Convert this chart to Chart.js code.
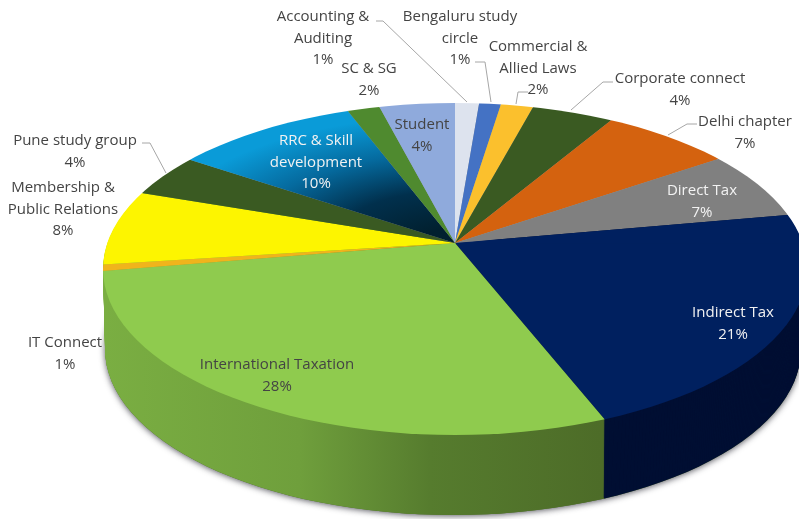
<!DOCTYPE html>
<html><head><meta charset="utf-8">
<style>html,body{margin:0;padding:0;background:#fff}canvas{display:block}</style>
<script src="https://cdn.jsdelivr.net/npm/chart.js@4"></script>
</head><body><canvas id="c" width="799" height="519"></canvas>
<script>
const categories=["Accounting & Auditing","Bengaluru study circle","Commercial & Allied Laws","Corporate connect","Delhi chapter","Direct Tax","Indirect Tax","International Taxation","IT Connect","Membership & Public Relations","Pune study group","RRC & Skill development","SC & SG","Student"];
const shownPercent=[1,1,2,4,7,7,21,28,1,8,4,10,2,4];
const shares=[1.1,1.0,1.5,3.9,6.8,7.4,21.4,28.4,0.8,8.4,4.4,9.6,1.6,3.7];
const faceColors=["#dde3ee","#4472c4","#fbc02d","#3a5a22","#d4620f","#808080","#00205f","#8fcb4e","#f0b41c","#fdf500","#3a5a22","#0a9bd8","#4f8a2f","#8faadc"];
const wallColors=["#999","#999","#999","#999","#999","#999","#000f33","#6f9f3c","#7aae42","#7aae42","#999","#999","#999","#999"];
const labelLines=[["Accounting &","Auditing"],["Bengaluru study","circle"],["Commercial &","Allied Laws"],["Corporate connect"],["Delhi chapter"],["Direct Tax"],["Indirect Tax"],["International Taxation"],["IT Connect"],["Membership &","Public Relations"],["Pune study group"],["RRC & Skill","development"],["SC & SG"],["Student"]];
const labelAnchors=[[323,17],[460,17],[538,47],[680,79],[745,122],[702,191],[733,313],[277,365],[65,343],[63,188],[75,141],[316,141],[369,69],[422,125]];
const labelColors=["#444","#444","#444","#444","#444","#f2f2f2","#f2f2f2","#444","#444","#444","#444","#f2f2f2","#444","#444"];
const leaders=[[[376,21],[383,21],[467,102]],[[475,62],[485,62],[491,102]],[[528,92],[518,92],[516,104]],[[613,82],[603,82],[571,110]],[[697,124],[687,124],[668,135]],[[142,143],[150,143],[166,173]]];
const LINE=21.3, FONT='15px "Open Sans"';
// projection of the flat pie on to the page
const apex={x:455,y:243}, rim={x:455,y:269,a:352,b:166}, sideDepth=80, oversize=2.2;
const reachRightDown=192, reachLeftDown=125, reachRightUp=141, reachLeftUp=150;
const INTL=7, RRC=11;
const greenWallStops=[[105,"#7aae42"],[300,"#6f9f3c"],[430,"#567c2e"],[600,"#4d6c28"]];
const rrcStops=[[0.1,"#01202f"],[0.35,"#01304d"],[0.6,"#056a9e"],[0.85,"#0a9bd8"]];

function arcStyle(fill){return {backgroundColor:fill,borderColor:fill,borderWidth:0,borderAlign:'center',borderJoinStyle:'round',borderRadius:0,spacing:0,offset:0,circular:true,borderDash:[],borderDashOffset:0};}
function paintArc(ctx,arc,fill){const keep=arc.options;arc.options=arcStyle(fill);arc.draw(ctx);arc.options=keep;}
function project(ctx,arc,reachY,dy){
  const R=arc.outerRadius, sx=oversize*rim.a/R, sy=oversize*reachY/R;
  ctx.translate(apex.x,apex.y+dy);ctx.scale(sx,sy);ctx.translate(-arc.x,-arc.y);
}
function clipEllipse(ctx,cx,cy,a,b){ctx.beginPath();ctx.ellipse(cx,cy,a,b,0,0,Math.PI*2);ctx.clip();}
function clipBox(ctx,x0,y0,x1,y1){ctx.beginPath();ctx.rect(x0,y0,x1-x0,y1-y0);ctx.clip();}

const pie3d={id:'pie3d',
  beforeDatasetsDraw(chart){
    const ctx=chart.ctx, arcs=chart.getDatasetMeta(0).data, a0=arcs[0], R=a0.outerRadius;
    ctx.save();
    ctx.shadowColor='rgba(30,30,40,.75)';ctx.shadowBlur=6;ctx.shadowOffsetX=0;ctx.shadowOffsetY=1;
    ctx.fillStyle='#4d6c28';
    ctx.beginPath();ctx.ellipse(rim.x-2,rim.y+sideDepth,rim.a-4,rim.b,0,0,Math.PI*2);ctx.fill();
    ctx.restore();
    const sx=oversize*rim.a/R;
    const gx=px=>a0.x+(px-apex.x)/sx;
    const green=ctx.createLinearGradient(gx(greenWallStops[0][0]),0,gx(greenWallStops[3][0]),0);
    greenWallStops.forEach(s=>green.addColorStop((s[0]-105)/495,s[1]));
    for(let d=sideDepth;d>=1;d--){
      const t=d/sideDepth;
      ctx.save();
      clipEllipse(ctx,rim.x-2*t,rim.y+d,rim.a-4*t,rim.b);
      project(ctx,a0,reachRightDown,d);
      arcs.forEach((arc,i)=>{paintArc(ctx,arc,(i===INTL||i===INTL+1||i===INTL+2)?green:wallColors[i]);});
      ctx.restore();
    }
    // top face in four quadrants around the apex, so each set of rays meets the rim where it should
    const ax=apex.x, ay=apex.y, o=0.5;
    const quadrants=[[ax-o,ay-o,799,600,reachRightDown],[0,ay-o,ax+o,600,reachLeftDown],[ax-o,0,799,ay+o,reachRightUp],[0,0,ax+o,ay+o,reachLeftUp]];
    const radial=(st)=>{const g=ctx.createRadialGradient(a0.x,a0.y,0,a0.x,a0.y,R/oversize);st.forEach(s=>g.addColorStop(s[0],s[1]));return g;};
    quadrants.forEach(q=>{
      ctx.save();
      clipBox(ctx,q[0],q[1],q[2],q[3]);
      clipEllipse(ctx,rim.x,rim.y,rim.a,rim.b);
      project(ctx,a0,q[4],0);
      arcs.forEach((arc,i)=>{paintArc(ctx,arc,i===RRC?radial(rrcStops):faceColors[i]);});
      ctx.restore();
    });
    return false;
  },
  afterDraw(chart){
    const ctx=chart.ctx;
    ctx.save();
    ctx.strokeStyle='#a6a6a6';ctx.lineWidth=1;
    leaders.forEach(l=>{ctx.beginPath();l.forEach((p,i)=>i?ctx.lineTo(p[0],p[1]):ctx.moveTo(p[0],p[1]));ctx.stroke();});
    ctx.font=FONT;ctx.textAlign='center';ctx.textBaseline='middle';
    categories.forEach((c,i)=>{
      const lines=labelLines[i].concat([shownPercent[i]+'%']);
      ctx.fillStyle=labelColors[i];
      lines.forEach((t,k)=>ctx.fillText(t,labelAnchors[i][0],labelAnchors[i][1]+k*LINE));
    });
    ctx.restore();
  }
};
new Chart(document.getElementById('c'),{
  type:'pie',
  data:{labels:categories,datasets:[{data:shares,backgroundColor:faceColors,borderWidth:0}]},
  options:{responsive:false,animation:false,events:[],layout:{padding:0},
    plugins:{legend:{display:false},tooltip:{enabled:false},title:{display:false}}},
  plugins:[pie3d]
});
</script>
</body></html>
